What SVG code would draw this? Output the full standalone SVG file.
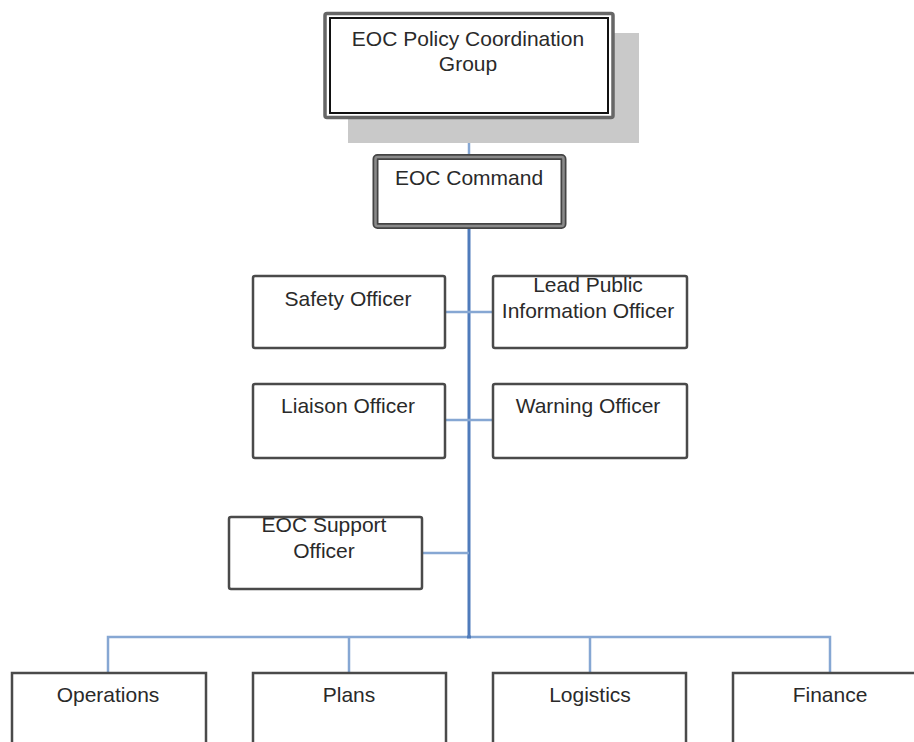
<svg xmlns="http://www.w3.org/2000/svg" width="914" height="742" viewBox="0 0 914 742">
<style>
text{font-family:"Liberation Sans",Arial,sans-serif;font-size:21px;fill:#2a2a2a;text-anchor:middle}
.box{fill:#fff;stroke:#4a4a4a;stroke-width:2.5}
.main{stroke:#4f7bbb;stroke-width:3;fill:none}
.branch{stroke:#86a7d3;stroke-width:2.5;fill:none}
</style>
<rect width="914" height="742" fill="#fff"/>
<g id="connectors">
<line class="branch" x1="469" y1="118" x2="469" y2="156"/>
<line class="main" x1="469" y1="228" x2="469" y2="638"/>
<line class="branch" x1="445" y1="312" x2="493" y2="312"/>
<line class="branch" x1="445" y1="420" x2="493" y2="420"/>
<line class="branch" x1="422" y1="553" x2="469" y2="553"/>
<polyline class="branch" points="108,673 108,637 830,637 830,673"/>
<line class="branch" x1="349" y1="637" x2="349" y2="673"/>
<line class="branch" x1="590" y1="637" x2="590" y2="673"/>
<line class="main" x1="467" y1="637" x2="471" y2="637"/>
</g>
<g id="policy">
<rect x="348" y="33" width="291" height="110" fill="#c9c9c9"/>
<rect x="325" y="13.5" width="288" height="104" rx="2" fill="#fff" stroke="#666" stroke-width="3.5"/>
<rect x="330" y="18" width="278" height="95" fill="#fff" stroke="#111" stroke-width="2"/>
<text x="468" y="46">EOC Policy Coordination</text>
<text x="468" y="71">Group</text>
</g>
<g id="command">
<rect x="375.5" y="157" width="188" height="69" rx="2" fill="#fff" stroke="#444" stroke-width="6"/>
<rect x="375.5" y="157" width="188" height="69" rx="2" fill="none" stroke="#8a8a8a" stroke-width="2.5"/>
<text x="469" y="185">EOC Command</text>
</g>
<g id="safety">
<rect class="box" x="253" y="276" width="192" height="72" rx="2"/>
<text x="348" y="306">Safety Officer</text>
</g>
<g id="lpio">
<rect class="box" x="493" y="276" width="194" height="72" rx="2"/>
<text x="588" y="292">Lead Public</text>
<text x="588" y="318">Information Officer</text>
</g>
<g id="liaison">
<rect class="box" x="253" y="384" width="192" height="74" rx="2"/>
<text x="348" y="413">Liaison Officer</text>
</g>
<g id="warning">
<rect class="box" x="493" y="384" width="194" height="74" rx="2"/>
<text x="588" y="413">Warning Officer</text>
</g>
<g id="support">
<rect class="box" x="229" y="517" width="193" height="72" rx="2"/>
<text x="324" y="532">EOC Support</text>
<text x="324" y="558">Officer</text>
</g>
<g id="operations">
<rect class="box" x="12" y="673" width="194" height="90"/>
<text x="108" y="702">Operations</text>
</g>
<g id="plans">
<rect class="box" x="253" y="673" width="193" height="90"/>
<text x="349" y="702">Plans</text>
</g>
<g id="logistics">
<rect class="box" x="493" y="673" width="193" height="90"/>
<text x="590" y="702">Logistics</text>
</g>
<g id="finance">
<rect class="box" x="733" y="673" width="200" height="90"/>
<text x="830" y="702">Finance</text>
</g>
</svg>
